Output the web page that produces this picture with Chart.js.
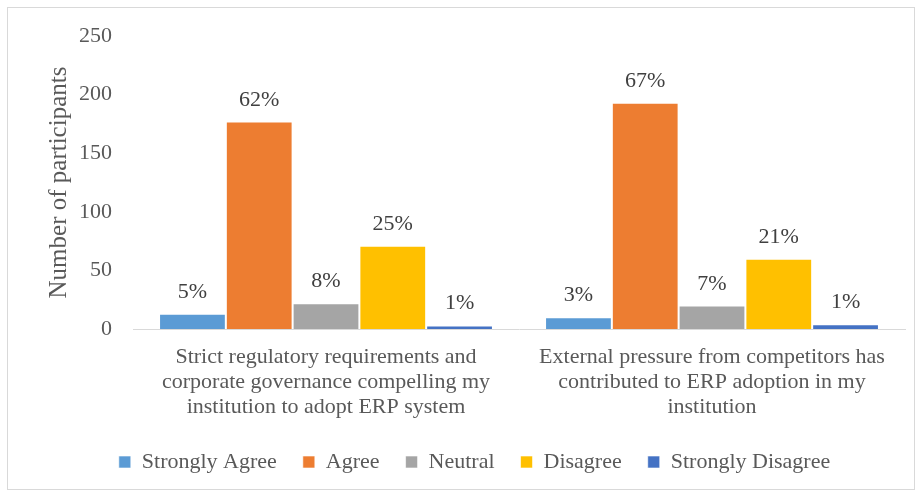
<!DOCTYPE html>
<html><head><meta charset="utf-8">
<script src="https://cdn.jsdelivr.net/npm/chart.js@4"></script>
<style>
html,body{margin:0;padding:0;background:#fff;}
#wrap{position:relative;width:922px;height:495px;}
#frame{position:absolute;left:7px;top:7px;width:906px;height:481px;border:1px solid #d9d9d9;pointer-events:none;}
canvas{display:block;}
</style></head><body>
<div id="wrap"><canvas id="c" width="922" height="495"></canvas><div id="frame"></div></div>
<script>
const categories = [
  ["Strict regulatory requirements and", "corporate governance compelling my", "institution to adopt ERP system"],
  ["External pressure from competitors has", "contributed to ERP adoption in my", "institution"]
];
const seriesNames = ["Strongly Agree", "Agree", "Neutral", "Disagree", "Strongly Disagree"];
const strongAgree = [13, 10];
const agree = [177, 193];
const neutral = [22, 20];
const disagree = [71, 60];
const strongDisagree = [3, 4];
const strongAgreePct = ["5%", "3%"];
const agreePct = ["62%", "67%"];
const neutralPct = ["8%", "7%"];
const disagreePct = ["25%", "21%"];
const strongDisagreePct = ["1%", "1%"];
const yMin = 0, yMax = 250, yStep = 50;

const colors = ["#5B9BD5", "#ED7D31", "#A5A5A5", "#FFC000", "#4472C4"];
const seriesValues = [strongAgree, agree, neutral, disagree, strongDisagree];
const seriesPct = [strongAgreePct, agreePct, neutralPct, disagreePct, strongDisagreePct];
const FONT = "'Liberation Serif', 'Times New Roman', serif";

const labelPlugin = {
  id: 'pctLabels',
  afterDatasetsDraw(chart) {
    const ctx = chart.ctx;
    ctx.save();
    ctx.font = "22px " + FONT;
    ctx.fillStyle = "#404040";
    ctx.textAlign = "center";
    ctx.textBaseline = "alphabetic";
    chart.data.datasets.forEach((ds, i) => {
      const meta = chart.getDatasetMeta(i);
      meta.data.forEach((el, j) => {
        ctx.fillText(ds.pct[j], el.x, el.y - 16);
      });
    });
    ctx.restore();
  }
};

new Chart(document.getElementById('c'), {
  type: 'bar',
  data: {
    labels: categories,
    datasets: seriesNames.map((n, i) => ({
      label: n,
      data: seriesValues[i],
      pct: seriesPct[i],
      backgroundColor: colors[i],
      borderColor: "rgba(255,255,255,0.6)",
      borderWidth: 1,
      categoryPercentage: 0.865,
      barPercentage: 1.0
    }))
  },
  options: {
    responsive: false,
    animation: false,
    devicePixelRatio: 1,
    layout: { padding: { left: 44, right: 17, top: 36, bottom: 12 } },
    plugins: {
      tooltip: { enabled: false },
      legend: {
        position: 'bottom',
        labels: {
          font: { family: FONT, size: 22 },
          color: "#595959",
          boxWidth: 12, boxHeight: 12,
          padding: 26
        }
      }
    },
    scales: {
      x: {
        grid: { display: false, drawTicks: false },
        border: { display: true, color: "#d9d9d9", width: 1 },
        ticks: {
          font: { family: FONT, size: 22, lineHeight: 1.14 },
          color: "#595959",
          padding: 16,
          maxRotation: 0, autoSkip: false
        },
        afterFit(s) { s.height = 96; }
      },
      y: {
        min: yMin, max: yMax,
        grid: { display: false, drawTicks: false },
        border: { display: false },
        ticks: {
          stepSize: yStep,
          font: { family: FONT, size: 22 },
          color: "#595959",
          padding: 21
        },
        title: {
          display: true,
          text: "Number of participants",
          font: { family: FONT, size: 25 },
          color: "#595959",
          padding: { top: 0, bottom: 0 }
        },
        afterFit(s) { s.width = 89; }
      }
    }
  },
  plugins: [labelPlugin]
});
</script>
</body></html>
